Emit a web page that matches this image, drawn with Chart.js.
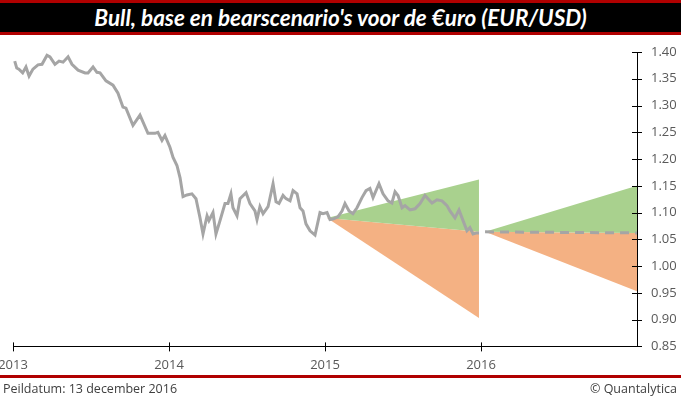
<!DOCTYPE html>
<html>

<head>
  <title>EUR/USD scenario's</title>
  <script src="https://cdn.jsdelivr.net/npm/chart.js"></script>
  <style>
    body { margin: 0; width: 681px; height: 399px; background: #fff; position: relative; overflow: hidden; }
    .titel {
      position: absolute; left: 0; top: 0; width: 681px; height: 29px;
      background: #000; border-top: 3px solid #b00000; border-bottom: 3px solid #b00000;
      color: #fff; font: italic bold 22.5px Lato, sans-serif; text-align: center; line-height: 29px;
    }
    .grafiek { position: absolute; left: 0; top: 36px; width: 681px; height: 348px; }
    .voet { position: absolute; left: 0; top: 375px; width: 681px; height: 3px; background: #b00000; }
    .voettekst { position: absolute; top: 380px; font: 12.5px "Open Sans", sans-serif; color: #404040; }
  </style>
</head>

<body>
  <div class="titel">Bull, base en bearscenario's voor de €uro (EUR/USD)</div>
  <div class="grafiek"><canvas id="chartLine"></canvas></div>
  <div class="voet"></div>
  <div class="voettekst" style="left:3px">Peildatum: 13 december 2016</div>
  <div class="voettekst" style="right:4px">© Quantalytica</div>
</body>
<script>
  // koers EUR/USD (tijd in jaren)
  var tijd = [2013.011, 2013.024, 2013.038, 2013.062, 2013.083, 2013.103, 2013.128, 2013.160, 2013.186, 2013.218,
    2013.237, 2013.269, 2013.295, 2013.321, 2013.353, 2013.378, 2013.417, 2013.462, 2013.481, 2013.513,
    2013.538, 2013.558, 2013.596, 2013.641, 2013.673, 2013.705, 2013.724, 2013.769, 2013.814, 2013.865,
    2013.910, 2013.929, 2013.955, 2013.974, 2014.006, 2014.026, 2014.051, 2014.071, 2014.090, 2014.115,
    2014.147, 2014.173, 2014.199, 2014.218, 2014.244, 2014.256, 2014.282, 2014.301, 2014.327, 2014.359,
    2014.378, 2014.397, 2014.410, 2014.436, 2014.455, 2014.494, 2014.519, 2014.551, 2014.564, 2014.583,
    2014.603, 2014.635, 2014.667, 2014.686, 2014.705, 2014.731, 2014.750, 2014.776, 2014.795, 2014.821,
    2014.840, 2014.859, 2014.878, 2014.904, 2014.936, 2014.968, 2014.987, 2015.013, 2015.032, 2015.051,
    2015.083, 2015.109, 2015.128, 2015.154, 2015.179, 2015.205, 2015.237, 2015.263, 2015.288, 2015.308,
    2015.346, 2015.372, 2015.404, 2015.429, 2015.449, 2015.468, 2015.494, 2015.513, 2015.545, 2015.577,
    2015.609, 2015.641, 2015.660, 2015.686, 2015.718, 2015.750, 2015.782, 2015.801, 2015.833, 2015.859,
    2015.885, 2015.910, 2015.929, 2015.949, 2015.974, 2015.987];
  var koers = [1.383, 1.370, 1.368, 1.361, 1.372, 1.355, 1.368, 1.376, 1.377, 1.394,
    1.391, 1.377, 1.383, 1.381, 1.391, 1.377, 1.366, 1.361, 1.361, 1.372,
    1.362, 1.361, 1.346, 1.338, 1.323, 1.297, 1.295, 1.263, 1.282, 1.248,
    1.248, 1.250, 1.235, 1.244, 1.222, 1.203, 1.188, 1.165, 1.130, 1.133,
    1.135, 1.126, 1.090, 1.060, 1.094, 1.085, 1.100, 1.060, 1.085, 1.117,
    1.117, 1.135, 1.109, 1.094, 1.126, 1.137, 1.117, 1.103, 1.087, 1.111,
    1.098, 1.111, 1.154, 1.120, 1.117, 1.132, 1.126, 1.122, 1.141, 1.135,
    1.109, 1.103, 1.079, 1.066, 1.058, 1.100, 1.098, 1.100, 1.087, 1.088,
    1.092, 1.103, 1.117, 1.103, 1.098, 1.109, 1.128, 1.141, 1.145, 1.128,
    1.154, 1.135, 1.122, 1.118, 1.139, 1.132, 1.109, 1.113, 1.105, 1.107,
    1.117, 1.132, 1.126, 1.118, 1.124, 1.122, 1.113, 1.103, 1.090, 1.105,
    1.085, 1.066, 1.072, 1.060, 1.062, 1.062];

  // scenario's 2015 (terugblik)
  var tijd2015 = [2015.013, 2015.987];
  var bull2015 = [1.090, 1.162];
  var base2015 = [1.090, 1.064];
  var bear2015 = [1.090, 0.903];

  // scenario's 2016
  var tijd2016 = [2016.026, 2017.0];
  var bull2016 = [1.064, 1.150];
  var base2016 = [1.064, 1.062];
  var bear2016 = [1.064, 0.953];

  var jaarTicks = [2013, 2014, 2015, 2016];

  var grijs = "#a5a5a5";
  var groen = "#a9d18e";
  var oranje = "#f4b183";

  function punten(xs, ys) {
    return xs.map(function (x, i) { return { x: x, y: ys[i] }; });
  }

  // tickstreepjes die door de as heen lopen
  var kruisTicks = {
    id: "kruisTicks",
    afterDraw: function (chart) {
      var ctx = chart.ctx;
      var sx = chart.scales.x, sy = chart.scales.y;
      ctx.save();
      ctx.strokeStyle = "#000";
      ctx.lineWidth = 1;
      ctx.beginPath();
      jaarTicks.forEach(function (j) {
        var px = Math.round(sx.getPixelForValue(j)) + 0.5;
        ctx.moveTo(px, sy.bottom - 4);
        ctx.lineTo(px, sy.bottom + 5);
      });
      sy.ticks.forEach(function (t) {
        var py = Math.round(sy.getPixelForValue(t.value)) + 0.5;
        ctx.moveTo(sx.right - 5, py);
        ctx.lineTo(sx.right + 5, py);
      });
      ctx.stroke();
      ctx.restore();
    }
  };

  var config = {
    type: "line",
    data: {
      datasets: [
        { label: "EUR/USD", data: punten(tijd, koers), borderColor: grijs, borderWidth: 3, pointRadius: 0, fill: false, order: 0 },
        { label: "base 2015", data: punten(tijd2015, base2015), borderWidth: 0, borderColor: "rgba(0,0,0,0)", pointRadius: 0, fill: false, order: 5 },
        { label: "bull 2015", data: punten(tijd2015, bull2015), borderWidth: 0, borderColor: "rgba(0,0,0,0)", pointRadius: 0, backgroundColor: groen, fill: 1, order: 6 },
        { label: "bear 2015", data: punten(tijd2015, bear2015), borderWidth: 0, borderColor: "rgba(0,0,0,0)", pointRadius: 0, backgroundColor: oranje, fill: 1, order: 6 },
        { label: "base 2016", data: punten(tijd2016, base2016), borderColor: grijs, borderWidth: 3, borderDash: [9, 6], pointRadius: 0, fill: false, order: 1 },
        { label: "bull 2016", data: punten(tijd2016, bull2016), borderWidth: 0, borderColor: "rgba(0,0,0,0)", pointRadius: 0, backgroundColor: groen, fill: 4, order: 6 },
        { label: "bear 2016", data: punten(tijd2016, bear2016), borderWidth: 0, borderColor: "rgba(0,0,0,0)", pointRadius: 0, backgroundColor: oranje, fill: 4, order: 6 }
      ]
    },
    options: {
      responsive: true,
      maintainAspectRatio: false,
      animation: false,
      layout: { padding: { left: 0, right: 0, top: 16, bottom: 0 } },
      plugins: { legend: { display: false }, tooltip: { enabled: false } },
      elements: { line: { tension: 0 } },
      scales: {
        x: {
          type: "linear",
          min: 2013,
          max: 2017,
          afterBuildTicks: function (scale) {
            scale.ticks = jaarTicks.map(function (j) { return { value: j }; });
          },
          afterFit: function (scale) { scale.paddingLeft = 13; scale.paddingRight = 0; },
          ticks: {
            padding: 11,
            maxRotation: 0,
            color: "#595959",
            font: { family: "Open Sans", size: 13 },
            callback: function (v) { return String(v); }
          },
          grid: { display: false, drawTicks: false },
          border: { display: true, color: "#000", width: 1 }
        },
        y: {
          position: "right",
          min: 0.85,
          max: 1.40,
          afterFit: function (scale) { scale.width = 44; scale.paddingTop = 0; scale.paddingBottom = 0; },
          ticks: {
            stepSize: 0.05,
            padding: 14,
            color: "#595959",
            font: { family: "Open Sans", size: 13 },
            callback: function (v) { return v.toFixed(2); }
          },
          grid: { display: false, drawTicks: false },
          border: { display: true, color: "#000", width: 1 }
        }
      }
    },
    plugins: [kruisTicks]
  };

  var grafiek = new Chart(document.getElementById("chartLine"), config);
</script>

</html>
